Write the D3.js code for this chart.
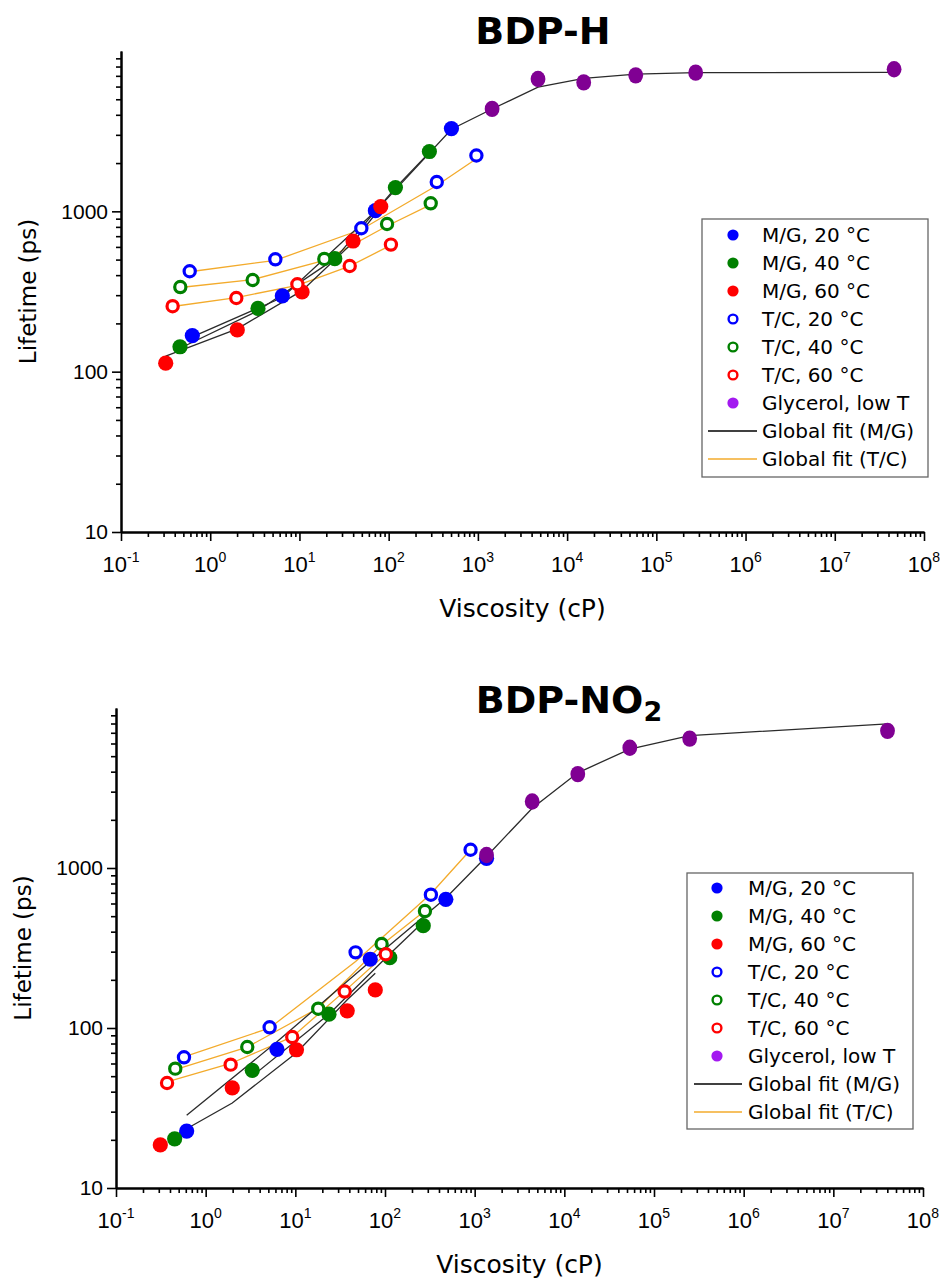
<!DOCTYPE html>
<html>
<head>
<meta charset="utf-8">
<script src="https://cdn.jsdelivr.net/npm/d3@7"></script>
<style>
  html, body { margin: 0; padding: 0; background: #fff; }
  svg { display: block; }
</style>
</head>
<body>
<svg id="chart" width="941" height="1281"></svg>
<script>
// ---- Data: [viscosity (cP), lifetime (ps)] ----

// BDP-H
const hMG20 = [[0.63, 168], [6.43, 297], [71, 1009], [505, 3281]];
const hMG40 = [[0.458, 143], [3.43, 248], [24.9, 507], [119, 1406], [286, 2361]];
const hMG60 = [[0.317, 113], [2.01, 182], [10.7, 314], [39.9, 653], [81.5, 1070]];
const hTC20 = [[0.589, 423], [5.37, 502], [49.4, 784], [346, 1524], [962, 2229]];
const hTC40 = [[0.462, 337], [2.99, 373], [19.0, 505], [95.9, 834], [296, 1122]];
const hTC60 = [[0.379, 256], [1.96, 288], [9.48, 351], [36.6, 456], [106, 620]];
const hGly  = [[1443, 4355], [4720, 6683], [15350, 6370], [58750, 7050], [276000, 7330], [4.62e7, 7690]];

const hFitMG20 = [[0.63, 165], [6.43, 290], [71, 1000], [505, 3250], [1443, 4350], [4720, 5950],
                  [15350, 6750], [58750, 7180], [276000, 7330], [4.62e7, 7350]];
const hFitMG40 = [[0.458, 140], [3.43, 240], [24.9, 505], [119, 1400], [286, 2330]];
const hFitMG60 = [[0.317, 125], [2.01, 185], [10.7, 320], [39.9, 640], [81.5, 1060]];
const hFitTC20 = [[0.589, 420], [5.37, 495], [49.4, 770], [346, 1450], [962, 2130]];
const hFitTC40 = [[0.462, 335], [2.99, 375], [19.0, 495], [95.9, 810], [296, 1100]];
const hFitTC60 = [[0.379, 255], [1.96, 290], [9.48, 345], [36.6, 455], [106, 615]];

// BDP-NO2
const nMG20 = [[0.614, 22.7], [6.24, 73.6], [68.4, 269], [477, 637], [1356, 1150]];
const nMG40 = [[0.451, 20.3], [3.31, 54.4], [23.7, 122], [113, 275], [267, 436]];
const nMG60 = [[0.312, 18.6], [1.98, 42.2], [10.3, 73.1], [37.9, 128], [77.9, 173]];
const nTC20 = [[0.573, 65.6], [5.17, 101], [47, 297], [325, 681], [900, 1300]];
const nTC40 = [[0.458, 55.7], [2.91, 76.1], [18.0, 132], [91.7, 335], [279, 538]];
const nTC60 = [[0.371, 45.3], [1.90, 59.0], [9.24, 87.8], [35.5, 169], [102, 289]];
const nGly  = [[1356, 1205], [4380, 2606], [14130, 3862], [53700, 5640], [250000, 6440], [4.02e7, 7200]];

const nFitMG20 = [[0.614, 28.5], [6.24, 82], [68.4, 260], [477, 650], [1356, 1180], [4380, 2365],
                  [14130, 3935], [53700, 5540], [250000, 6720], [4.02e7, 7960]];
const nFitMG40 = [[3.31, 50], [23.7, 122], [113, 290], [267, 460]];
const nFitMG60 = [[0.5, 22], [1.98, 34], [10.3, 70], [37.9, 150], [77.9, 220]];
const nFitTC20 = [[0.573, 66], [5.17, 100], [47, 260], [325, 690], [900, 1300]];
const nFitTC40 = [[0.458, 55], [2.91, 76], [18.0, 133], [91.7, 330], [279, 540]];
const nFitTC60 = [[0.371, 46], [1.90, 60], [9.24, 88], [35.5, 170], [102, 290]];

// Axis ticks
const xMajor = [1e-1, 1e0, 1e1, 1e2, 1e3, 1e4, 1e5, 1e6, 1e7, 1e8];
const xExponents = ["-1", "0", "1", "2", "3", "4", "5", "6", "7", "8"];
const yMajor = [10, 100, 1000];
const yMajorLabels = ["10", "100", "1000"];

// Legend entries
const legendLabels = ["M/G, 20 \u00B0C", "M/G, 40 \u00B0C", "M/G, 60 \u00B0C",
                      "T/C, 20 \u00B0C", "T/C, 40 \u00B0C", "T/C, 60 \u00B0C",
                      "Glycerol, low T", "Global fit (M/G)", "Global fit (T/C)"];

// ---- Styling ----
const BLUE = "#0000ff", GREEN = "#008000", RED = "#ff0000";
const PURPLE = "#800093", PURPLE_KEY = "#a319f0";
const FIT_MG = "#2b2b2b", FIT_TC = "#f3ab2c";
const legendKinds = [
  {kind: "filled", color: BLUE}, {kind: "filled", color: GREEN}, {kind: "filled", color: RED},
  {kind: "open", color: BLUE}, {kind: "open", color: GREEN}, {kind: "open", color: RED},
  {kind: "filled", color: PURPLE_KEY}, {kind: "line", color: "#000"}, {kind: "line", color: FIT_TC}
];

function minorTicks(lo, hi) {
  const out = [];
  for (let d = lo; d < hi; d *= 10) for (let k = 2; k <= 9; k++) out.push(d * k);
  return out;
}

const svg = d3.select("#chart");

function drawPanel(p) {
  const g = svg.append("g");
  const x = d3.scaleLog().domain([0.1, 1e8]).range([p.x0, p.x1]);
  const y = d3.scaleLog().domain([10, 1e4]).range([p.y0, p.y1]);

  // title
  const t = g.append("text")
    .attr("x", p.titleX).attr("y", p.titleY)
    .attr("text-anchor", "middle")
    .attr("font-family", "DejaVu Sans, Verdana, sans-serif")
    .attr("font-weight", "bold").attr("font-size", 38);
  t.append("tspan").text(p.title);
  if (p.titleSub) t.append("tspan").attr("dy", 8).attr("font-size", 27).text(p.titleSub);

  // axes
  const xMinorAxis = d3.axisBottom(x).tickValues(minorTicks(0.1, 1e8)).tickSize(5).tickSizeOuter(0).tickFormat("");
  const xMajorAxis = d3.axisBottom(x).tickValues(xMajor).tickSize(9).tickSizeOuter(0).tickFormat("");
  const yMinorAxis = d3.axisLeft(y).tickValues(minorTicks(10, 1e4)).tickSize(5).tickSizeOuter(0).tickFormat("");
  const yMajorAxis = d3.axisLeft(y).tickValues(yMajor).tickSize(9).tickSizeOuter(0)
    .tickFormat((d, i) => yMajorLabels[i]);

  [xMinorAxis, xMajorAxis].forEach(a => {
    g.append("g").attr("transform", `translate(0,${p.y0})`).call(a);
  });
  [yMinorAxis, yMajorAxis].forEach(a => {
    g.append("g").attr("transform", `translate(${p.x0},0)`).call(a);
  });
  g.selectAll(".domain").attr("stroke", "#000").attr("stroke-width", 2);
  g.selectAll(".tick line").attr("stroke", "#000").attr("stroke-width", 1.6);
  g.selectAll(".tick text")
    .attr("font-family", "Liberation Sans, Arial, sans-serif")
    .attr("font-size", 21).attr("fill", "#000")
    .attr("x", -13);

  // x tick labels with superscript exponents
  xMajor.forEach((v, i) => {
    const lt = g.append("text")
      .attr("x", x(v)).attr("y", p.y0 + 40)
      .attr("text-anchor", "middle")
      .attr("font-family", "Liberation Sans, Arial, sans-serif")
      .attr("font-size", 22).attr("fill", "#000");
    lt.append("tspan").text("10");
    lt.append("tspan").attr("dy", -10).attr("font-size", 14).text(xExponents[i]);
  });

  // axis titles
  g.append("text")
    .attr("x", (p.x0 + p.x1) / 2).attr("y", p.y0 + 85)
    .attr("text-anchor", "middle")
    .attr("font-family", "DejaVu Sans, Verdana, sans-serif")
    .attr("font-size", 25).text("Viscosity (cP)");
  g.append("text")
    .attr("transform", `translate(${p.yLabelX},${(p.y0 + p.y1) / 2}) rotate(-90)`)
    .attr("text-anchor", "middle")
    .attr("font-family", "DejaVu Sans, Verdana, sans-serif")
    .attr("font-size", 23).text("Lifetime (ps)");

  // fit lines
  const line = d3.line().x(d => x(d[0])).y(d => y(d[1]));
  p.fitsTC.forEach(f => g.append("path").attr("d", line(f)).attr("fill", "none")
    .attr("stroke", FIT_TC).attr("stroke-width", 1.3));
  p.fitsMG.forEach(f => g.append("path").attr("d", line(f)).attr("fill", "none")
    .attr("stroke", FIT_MG).attr("stroke-width", 1.3));

  // filled M/G points
  p.filled.forEach(s => {
    g.append("g").selectAll("circle").data(s.data).join("circle")
      .attr("cx", d => x(d[0])).attr("cy", d => y(d[1])).attr("r", 7.6)
      .attr("fill", s.color);
  });
  // open T/C points
  p.open.forEach(s => {
    g.append("g").selectAll("circle").data(s.data).join("circle")
      .attr("cx", d => x(d[0])).attr("cy", d => y(d[1])).attr("r", 5.6)
      .attr("fill", "#fff").attr("stroke", s.color).attr("stroke-width", 3.2);
  });
  // glycerol points
  g.append("g").selectAll("ellipse").data(p.gly).join("ellipse")
    .attr("cx", d => x(d[0])).attr("cy", d => y(d[1])).attr("rx", 7.4).attr("ry", 8.2)
    .attr("fill", PURPLE);

  // legend
  const L = p.legend;
  const lg = g.append("g");
  lg.append("rect").attr("x", L.x).attr("y", L.y).attr("width", L.w).attr("height", L.h)
    .attr("fill", "#fff").attr("stroke", "#666").attr("stroke-width", 1.3);
  legendLabels.forEach((lab, i) => {
    const cy = L.y + L.first + i * L.step;
    const k = legendKinds[i];
    if (k.kind === "filled") {
      lg.append("circle").attr("cx", L.mx).attr("cy", cy).attr("r", 5.6).attr("fill", k.color);
    } else if (k.kind === "open") {
      lg.append("circle").attr("cx", L.mx).attr("cy", cy).attr("r", 4.4)
        .attr("fill", "#fff").attr("stroke", k.color).attr("stroke-width", 2.4);
    } else {
      lg.append("line").attr("x1", L.lx0).attr("x2", L.lx1).attr("y1", cy).attr("y2", cy)
        .attr("stroke", k.color).attr("stroke-width", 1.5);
    }
    lg.append("text").attr("x", L.tx).attr("y", cy).attr("dy", "0.36em")
      .attr("font-family", "DejaVu Sans, Verdana, sans-serif")
      .attr("font-size", 20).attr("fill", "#000").text(lab);
  });
}

drawPanel({
  title: "BDP-H", titleSub: null, titleX: 543, titleY: 44,
  x0: 121, x1: 924, y0: 532, y1: 51, yLabelX: 36,
  filled: [{data: hMG20, color: BLUE}, {data: hMG40, color: GREEN}, {data: hMG60, color: RED}],
  open: [{data: hTC20, color: BLUE}, {data: hTC40, color: GREEN}, {data: hTC60, color: RED}],
  gly: hGly,
  fitsMG: [hFitMG20, hFitMG40, hFitMG60],
  fitsTC: [hFitTC20, hFitTC40, hFitTC60],
  legend: {x: 702, y: 219, w: 226, h: 258, first: 16, step: 28, mx: 733, tx: 762, lx0: 708, lx1: 757}
});

drawPanel({
  title: "BDP-NO", titleSub: "2", titleX: 569, titleY: 713,
  x0: 116, x1: 923, y0: 1188, y1: 708, yLabelX: 31,
  filled: [{data: nMG20, color: BLUE}, {data: nMG40, color: GREEN}, {data: nMG60, color: RED}],
  open: [{data: nTC20, color: BLUE}, {data: nTC40, color: GREEN}, {data: nTC60, color: RED}],
  gly: nGly,
  fitsMG: [nFitMG20, nFitMG40, nFitMG60],
  fitsTC: [nFitTC20, nFitTC40, nFitTC60],
  legend: {x: 687, y: 873, w: 226, h: 256, first: 15, step: 28, mx: 717, tx: 748, lx0: 694, lx1: 742}
});
</script>
</body>
</html>
